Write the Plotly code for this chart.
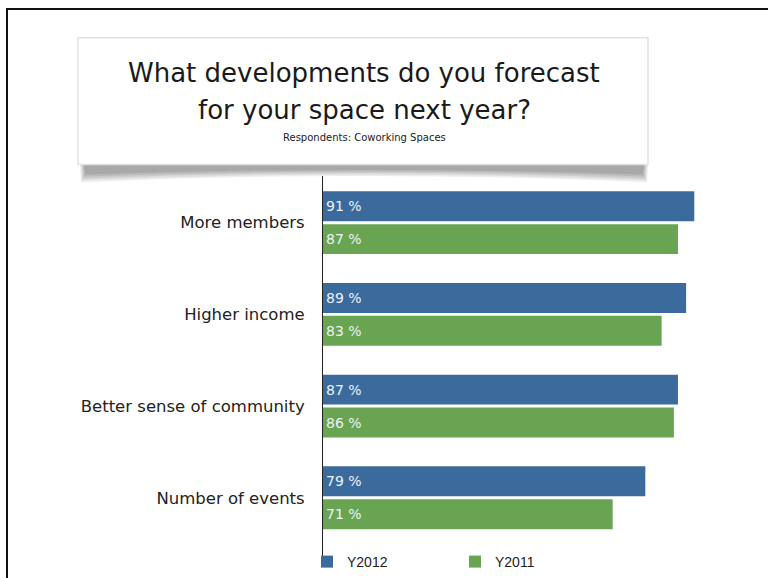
import plotly.graph_objects as go

# Survey answers per development, share of coworking spaces (%)
categories = ["More members", "Higher income", "Better sense of community", "Number of events"]
series_names = ["Y2012", "Y2011"]
values_2012 = [91, 89, 87, 79]
values_2011 = [87, 83, 86, 71]
colors = ["#3B6A9D", "#69A453"]

W, H = 768, 578
FONT = "DejaVu Sans"


def px(x):
    return x / W


def py(y):
    return 1 - y / H


fig = go.Figure()
for name, vals, col in zip(series_names, [values_2012, values_2011], colors):
    fig.add_trace(go.Bar(
        name=name,
        y=categories,
        x=vals,
        orientation="h",
        marker=dict(color=col, line=dict(width=0)),
        text=[f"{v} %" for v in vals],
        textposition="inside",
        insidetextanchor="start",
        constraintext="none",
        textfont=dict(family=FONT, size=14, color="#EEF2F5"),
    ))

shapes = []
# outer frame (left and top edges)
shapes.append(dict(type="rect", xref="paper", yref="paper",
                   x0=px(7), x1=px(790), y0=py(9), y1=py(620),
                   line=dict(color="#111111", width=2), fillcolor="rgba(0,0,0,0)", layer="below"))
# soft curled shadow under the title card
layers = [(0.10, 0), (0.10, 2), (0.12, 4), (0.14, 6), (0.16, 8)]
for op, d in layers:
    path = (f"M {px(80 + d / 2)},{py(164)} L {px(648 - d / 2)},{py(164)} "
            f"L {px(647 - d / 2)},{py(183 - d)} Q {px(364)},{py(170 - d / 2)} {px(81 + d / 2)},{py(183 - d)} Z")
    shapes.append(dict(type="path", xref="paper", yref="paper", path=path,
                       fillcolor=f"rgba(80,80,80,{op})", line=dict(width=0), layer="below"))
# title card
shapes.append(dict(type="rect", xref="paper", yref="paper",
                   x0=px(78), x1=px(648), y0=py(38), y1=py(165),
                   line=dict(color="#E2E2E2", width=1.5), fillcolor="white", layer="below"))

annotations = [
    dict(text="What developments do you forecast", x=px(364), y=py(73),
         font=dict(family=FONT, size=26, color="#1a1a1a")),
    dict(text="for your space next year?", x=px(364), y=py(110),
         font=dict(family=FONT, size=26, color="#1a1a1a")),
    dict(text="Respondents: Coworking Spaces", x=px(364), y=py(138),
         font=dict(family=FONT, size=10, color="#222222")),
]
for a in annotations:
    a.update(xref="paper", yref="paper", showarrow=False, xanchor="center", yanchor="middle")

fig.update_layout(
    width=W, height=H,
    margin=dict(l=0, r=0, t=0, b=0),
    paper_bgcolor="white", plot_bgcolor="white",
    barmode="group", bargap=0.283, bargroupgap=0.09,
    shapes=shapes, annotations=annotations,
    showlegend=True,
    legend=dict(orientation="h", x=px(307), y=py(564), xanchor="left", yanchor="middle",
                entrywidth=103, entrywidthmode="pixels",
                font=dict(family="Liberation Sans", size=14, color="#222222"),
                bgcolor="rgba(0,0,0,0)"),
    xaxis=dict(domain=[px(323), px(731)], range=[0, 100], visible=False, fixedrange=True),
    yaxis=dict(domain=[py(558), py(177)], range=[3.636, -0.505], type="category",
               showline=True, linecolor="#222222", linewidth=1, showgrid=False,
               ticks="", ticklabelstandoff=14,
               tickfont=dict(family=FONT, size=16.5, color="#222222")),
)

fig.write_html("out.html")
